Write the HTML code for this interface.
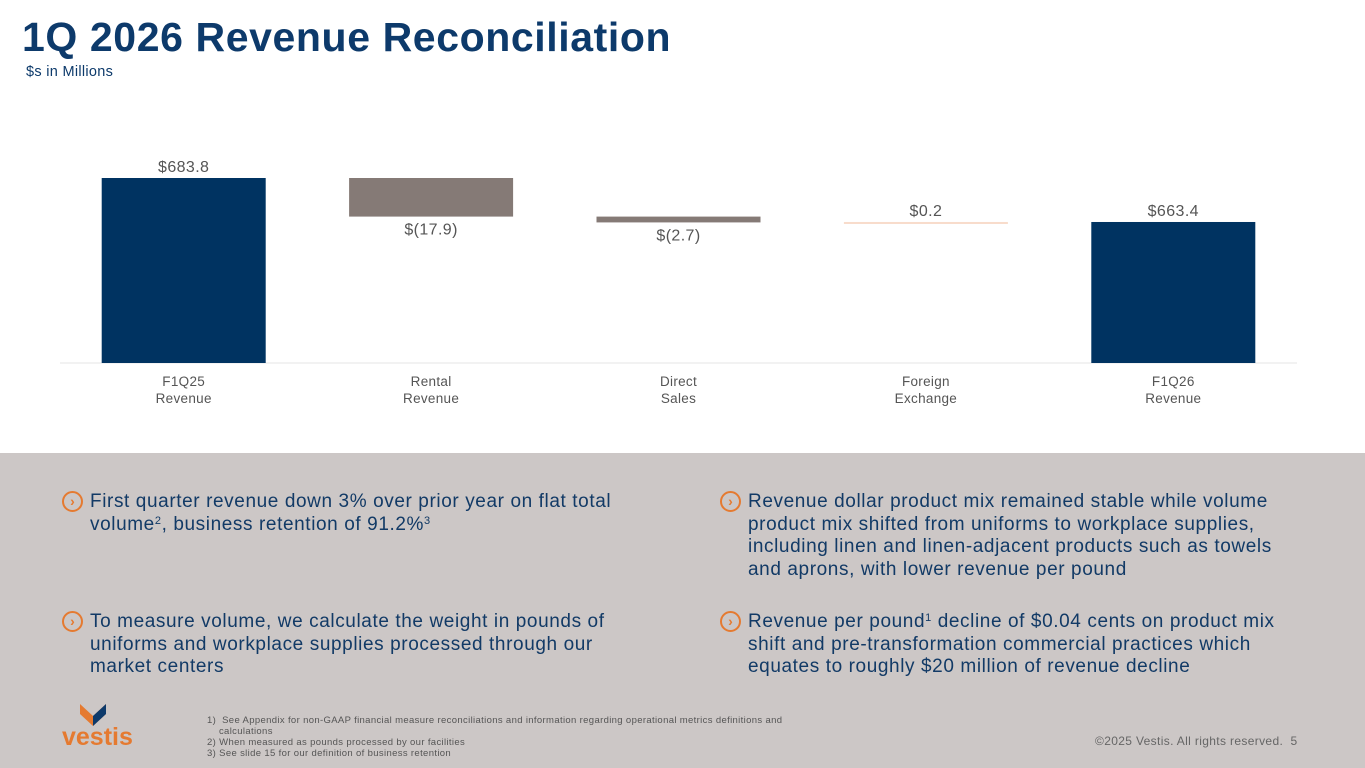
<!DOCTYPE html>
<html><head><meta charset="utf-8"><style>
body{margin:0;width:1365px;height:768px;position:relative;overflow:hidden;background:#fff;font-family:"Liberation Sans",sans-serif;color:#1e3a5f}
.t{position:absolute}
h1{position:absolute;left:22px;top:14px;margin:0;font-size:41px;font-weight:bold;color:#0d3a6b;letter-spacing:0.6px}
#sub{left:26px;top:64px;font-size:14.5px;color:#0d3a6b;letter-spacing:0.3px}
#gray{position:absolute;left:0;top:453px;width:1365px;height:315px;background:#ccc7c6}
.b{position:absolute;font-size:19px;line-height:22.5px;color:#123a66;letter-spacing:0.6px;white-space:nowrap}
.b sup{font-size:11px;line-height:0;vertical-align:6px}
.ic{position:absolute;width:17px;height:17px;border:2px solid #e57a30;border-radius:50%;color:#e57a30;font-size:14px;line-height:16px;text-align:center;font-weight:bold}
.fn{position:absolute;left:207px;top:715px;font-size:9.5px;line-height:11px;color:#555;letter-spacing:0.35px}
</style></head><body>
<h1>1Q 2026 Revenue Reconciliation</h1>
<div class="t" id="sub">$s in Millions</div>
<svg id="chart" width="1365" height="453" style="position:absolute;left:0;top:0"></svg>
<div id="gray"></div>
<div class="ic" style="left:62px;top:491px">›</div>
<div class="b" style="left:90px;top:491px">First quarter revenue down 3% over prior year on flat total<br>volume<sup>2</sup>, business retention of 91.2%<sup>3</sup></div>
<div class="ic" style="left:62px;top:611px">›</div>
<div class="b" style="left:90px;top:611px">To measure volume, we calculate the weight in pounds of<br>uniforms and workplace supplies processed through our<br>market centers</div>
<div class="ic" style="left:720px;top:491px">›</div>
<div class="b" style="left:748px;top:491px">Revenue dollar product mix remained stable while volume<br>product mix shifted from uniforms to workplace supplies,<br>including linen and linen-adjacent products such as towels<br>and aprons, with lower revenue per pound</div>
<div class="ic" style="left:720px;top:611px">›</div>
<div class="b" style="left:748px;top:611px">Revenue per pound<sup>1</sup> decline of $0.04 cents on product mix<br>shift and pre-transformation commercial practices which<br>equates to roughly $20 million of revenue decline</div>
<svg style="position:absolute;left:60px;top:702px" width="90" height="46">
<polygon points="20,2 33,14 46,2 46,12 33,24 20,12" fill="#e57a30"/><polygon points="33,14 46,2 46,12 33,24" fill="#0d3a6b"/>
<text x="2" y="43" font-family="Liberation Sans" font-weight="bold" font-size="25" fill="#e57a30">vestis</text></svg>
<div class="fn">1)&nbsp; See Appendix for non-GAAP financial measure reconciliations and information regarding operational metrics definitions and<br>&nbsp;&nbsp;&nbsp;&nbsp;calculations<br>2) When measured as pounds processed by our facilities<br>3) See slide 15 for our definition of business retention</div>
<div class="t" style="left:1095px;top:734px;font-size:12px;color:#666;letter-spacing:0.35px">©2025 Vestis. All rights reserved.&nbsp; 5</div>
<script>
const categories=["F1Q25|Revenue","Rental|Revenue","Direct|Sales","Foreign|Exchange","F1Q26|Revenue"];
const values=[683.8,-17.9,-2.7,0.2,663.4];
const isTotal=[true,false,false,false,true];
const labels=["$683.8","$(17.9)","$(2.7)","$0.2","$663.4"];
const svg=document.getElementById('chart');const NS='http://www.w3.org/2000/svg';
const yMin=598,yMax=683.8,yBase=363,yTop=178;
const y=v=>yBase-(v-yMin)/(yMax-yMin)*(yBase-yTop);
const x0=60,x1=1297,step=(x1-x0)/categories.length,bw=164;
const xc=i=>x0+step*(i+0.5);
const base=document.createElementNS(NS,'line');
base.setAttribute('x1',x0);base.setAttribute('x2',x1);base.setAttribute('y1',yBase);base.setAttribute('y2',yBase);base.setAttribute('stroke','#e4e4e4');


svg.appendChild(base);
let run=0;
categories.forEach((c,i)=>{
 let a,b,col;
 if(isTotal[i]){a=yMin;b=values[i];run=values[i];col='#003361';}
 else{a=run;b=run+values[i];run=b;col=values[i]<0?'#857a76':'#f8dccb';}
 let top=y(Math.max(a,b)),bot=y(Math.min(a,b));if(bot-top<2)bot=top+2;
 const r=document.createElementNS(NS,'rect');
 r.setAttribute('x',xc(i)-bw/2);r.setAttribute('width',bw);r.setAttribute('y',top);r.setAttribute('height',bot-top);r.setAttribute('fill',col);
 
 
 svg.appendChild(r);
 const t=document.createElementNS(NS,'text');
 t.setAttribute('x',xc(i));t.setAttribute('y',values[i]<0&&!isTotal[i]?bot+18:top-6);
 t.setAttribute('text-anchor','middle');t.setAttribute('font-size','16');t.setAttribute('fill','#555');t.setAttribute('font-family','Liberation Sans');t.setAttribute('letter-spacing','0.4');
 t.textContent=labels[i];
 
 
 svg.appendChild(t);
 c.split('|').forEach((ln,k)=>{
  const l=document.createElementNS(NS,'text');
  l.setAttribute('x',xc(i));l.setAttribute('y',386+k*17);l.setAttribute('text-anchor','middle');l.setAttribute('font-size','13.5');l.setAttribute('fill','#555');l.setAttribute('font-family','Liberation Sans');l.setAttribute('letter-spacing','0.3');
  l.textContent=ln;
  
  
  svg.appendChild(l);
 });
});
</script>
</body></html>
